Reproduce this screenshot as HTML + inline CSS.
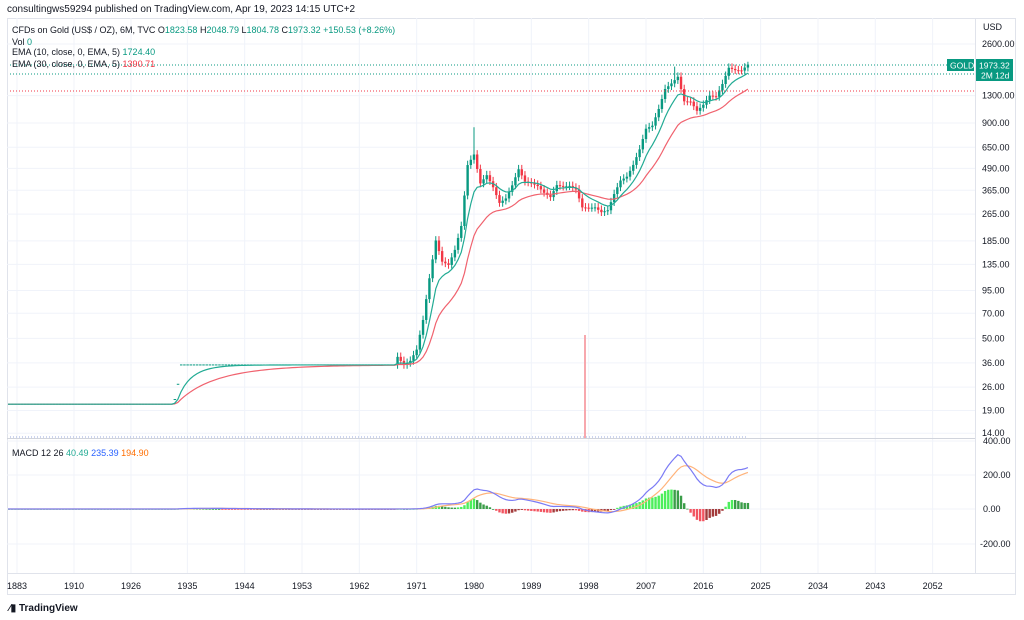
<!DOCTYPE html>
<html><head><meta charset="utf-8"><style>
body{margin:0;background:#fff;width:1024px;height:620px;overflow:hidden;font-family:"Liberation Sans",sans-serif}
svg{position:absolute;left:0;top:0}
</style></head><body>
<svg id="s" width="1024" height="620" xmlns="http://www.w3.org/2000/svg" font-family="Liberation Sans, sans-serif">
<defs><clipPath id="cp"><rect x="8" y="18" width="967" height="556"/></clipPath></defs>
<rect width="1024" height="620" fill="#fff"/>
<text x="7" y="12" font-size="10" fill="#131722">consultingws59294 published on TradingView.com, Apr 19, 2023 14:15 UTC+2</text>
<rect x="7.5" y="18.5" width="1008" height="576" fill="none" stroke="#e0e3eb"/>
<g id="grid" stroke="#f0f3fa" stroke-width="1"></g>
<line x1="7" y1="438.5" x2="975" y2="438.5" stroke="#d1d4dc"/>
<line x1="7" y1="573.5" x2="1016" y2="573.5" stroke="#e0e3eb"/>
<line x1="975.5" y1="18" x2="975.5" y2="573" stroke="#e0e3eb"/>
<g id="plot" clip-path="url(#cp)"></g>
<g font-size="9" fill="#131722" id="axis"></g>
<text x="12" y="33" font-size="9" fill="#131722">CFDs on Gold (US$ / OZ), 6M, TVC <tspan>O</tspan><tspan fill="#089981">1823.58</tspan> H<tspan fill="#089981">2048.79</tspan> L<tspan fill="#089981">1804.78</tspan> C<tspan fill="#089981">1973.32</tspan> <tspan fill="#089981">+150.53 (+8.26%)</tspan></text>
<text x="12" y="45" font-size="9" fill="#131722">Vol <tspan fill="#089981">0</tspan></text>
<text x="12" y="55" font-size="9" fill="#131722">EMA (10, close, 0, EMA, 5) <tspan fill="#089981">1724.40</tspan></text>
<text x="12" y="67" font-size="9" fill="#131722">EMA (30, close, 0, EMA, 5) <tspan fill="#f23645">1390.71</tspan></text>
<text x="12" y="456" font-size="9" fill="#131722">MACD 12 26 <tspan fill="#22ab94">40.49</tspan> <tspan fill="#2962ff">235.39</tspan> <tspan fill="#ff6d00">194.90</tspan></text>
<rect x="947" y="59" width="27" height="12" fill="#089981"/>
<text x="950" y="68.5" font-size="8.5" fill="#fff">GOLD</text>
<rect x="976" y="59" width="37" height="22" fill="#089981"/>
<text x="979" y="68.5" font-size="8.5" fill="#fff">1973.32</text>
<text x="981" y="78.5" font-size="8.5" fill="#fff">2M 12d</text>
<text x="983" y="30" font-size="9" fill="#131722">USD</text>
<text x="9" y="611" font-size="10" fill="#131722" font-weight="bold">⁄▮ TradingView</text>
</svg>
<script>
const NS="http://www.w3.org/2000/svg";
const plot=document.getElementById('plot'),grid=document.getElementById('grid'),axis=document.getElementById('axis');
function el(t,a,p){const e=document.createElementNS(NS,t);for(const k in a)e.setAttribute(k,a[k]);(p||plot).appendChild(e);return e;}
const X=y=>474+(y-1980)*6.37;
const Y=p=>44+Math.log(2600/p)*74.5;
const MY=v=>509-v*0.1725;
[1883,1910,1926,1935,1944,1953,1962,1971,1980,1989,1998,2007,2016,2025,2034,2043,2052].forEach(y=>{
 let x=X(y);if(y==1883)x=17;if(y==1910)x=74;if(y==1926)x=131;
 el('line',{x1:x,y1:18,x2:x,y2:573},grid);
 const t=el('text',{x:x,y:589,'text-anchor':'middle'},axis);t.textContent=y;});
[2600,1300,900,650,490,365,265,185,135,95,70,50,36,26,19,14].forEach(p=>{
 const y=Y(p);el('line',{x1:7,y1:y,x2:975,y2:y},grid);
 const t=el('text',{x:982,y:y+3},axis);t.textContent=p.toFixed(2);});
[[400,441],[200,475],[0,509],[-200,544]].forEach(([v,y])=>{
 el('line',{x1:7,y1:y,x2:975,y2:y},grid);
 const t=el('text',{x:v<0?980:983,y:y+3},axis);t.textContent=v.toFixed(2);});
const yr={1968:39,1969:35,1970:37,1971:43,1972:64,1973:112,1974:186,1975:140,1976:134,1977:164,1978:226,1979:512,1980:590,1981:400,1982:447,1983:380,1984:308,1985:327,1986:390,1987:484,1988:410,1989:401,1990:386,1991:353,1992:333,1993:391,1994:383,1995:387,1996:369,1997:290,1998:288,1999:290,2000:272,2001:279,2002:347,2003:416,2004:438,2005:513,2006:632,2007:834,2008:869,2009:1087,2010:1421,2011:1531,2012:1675,2013:1204,2014:1199,2015:1060,2016:1150,2017:1300,2018:1280,2019:1520,2020:1890,2021:1830,2022:1820,2023:1973};
const bars=[];
for(let t=1883;t<2023.5;t+=0.5){
 let c;
 if(t<1933)c=20.67;else if(t<1934)c=22+(t-1933)*10;else if(t<1968)c=35;
 else{const a=Math.floor(t),f=t-a;const v0=yr[a]||1973,v1=yr[a+1]||v0;c=v0*Math.pow(v1/v0,f);}
 if(t>=2023)c=1973;
 bars.push({t,c});}
for(let i=0;i<bars.length;i++){const b=bars[i];b.o=i?bars[i-1].c:b.c;
 b.h=Math.max(b.o,b.c)*(b.t>=1968?1.06:1.0);b.l=Math.min(b.o,b.c)*(b.t>=1968?0.95:1.0);}
bars.find(b=>b.t==1980).h=850;bars.find(b=>b.t==2011.5).h=1920;bars.find(b=>b.t==2023).h=2049;
function ema(arr,n){const k=2/(n+1);let e=arr[0];return arr.map(v=>e=v*k+e*(1-k));}
const cl=bars.map(b=>b.c);
const e10=ema(cl,10),e30=ema(cl,30);
bars.forEach(b=>{const x=X(b.t);
 if(b.t<1968){el('line',{x1:x-1,y1:Y(b.c),x2:x+1.5,y2:Y(b.c),stroke:'#089981','stroke-width':1});return;}
 const up=b.c>=b.o,col=up?'#089981':'#f23645';
 el('line',{x1:x,y1:Y(b.h),x2:x,y2:Y(b.l),stroke:col,'stroke-width':1});
 const y1=Y(Math.max(b.o,b.c)),y2=Y(Math.min(b.o,b.c));
 el('rect',{x:x-1.2,y:y1,width:2.4,height:Math.max(1,y2-y1),fill:col});});
const pl=(arr,f,col)=>el('polyline',{points:bars.map((b,i)=>X(b.t)+','+f(arr[i])).join(' '),fill:'none',stroke:col,'stroke-width':1.2});
pl(e30.map((v,i)=>i<100?Math.min(v,cl[i]):v),Y,'#f0626e');
pl(e10,Y,'#22ab94');
el('line',{x1:7,y1:65,x2:948,y2:65,stroke:'#089981','stroke-dasharray':'1 2'});
el('line',{x1:7,y1:74,x2:975,y2:74,stroke:'#089981','stroke-dasharray':'1 2'});
el('line',{x1:7,y1:91,x2:975,y2:91,stroke:'#f23645','stroke-dasharray':'1 2'});
el('line',{x1:7,y1:437,x2:748,y2:437,stroke:'#9ad','stroke-dasharray':'1 2'});
el('rect',{x:584,y:335,width:2,height:103,fill:'#f7a8ae'});
const f12=ema(cl,12),s26=ema(cl,26),m=f12.map((v,i)=>v-s26[i]),sg=ema(m,9);
bars.forEach((b,i)=>{const h=(m[i]-sg[i])*1.25,x=X(b.t);const prev=i?(m[i-1]-sg[i-1])*1.25:0;
 let col=h>=0?(h>=prev?'#4cee5c':'#3a9d48'):(h<prev?'#f25460':'#a33b3b');
 const y0=MY(0),y1=MY(h);el('rect',{x:x-1.2,y:Math.min(y0,y1),width:2.4,height:Math.max(0.8,Math.abs(y1-y0)),fill:col});});
el('polyline',{points:bars.map((b,i)=>X(b.t)+','+MY(sg[i])).join(' '),fill:'none',stroke:'#ffb37a','stroke-width':1.2});
el('polyline',{points:bars.map((b,i)=>X(b.t)+','+MY(m[i])).join(' '),fill:'none',stroke:'#7b7bf5','stroke-width':1.2});
</script>
</body></html>
